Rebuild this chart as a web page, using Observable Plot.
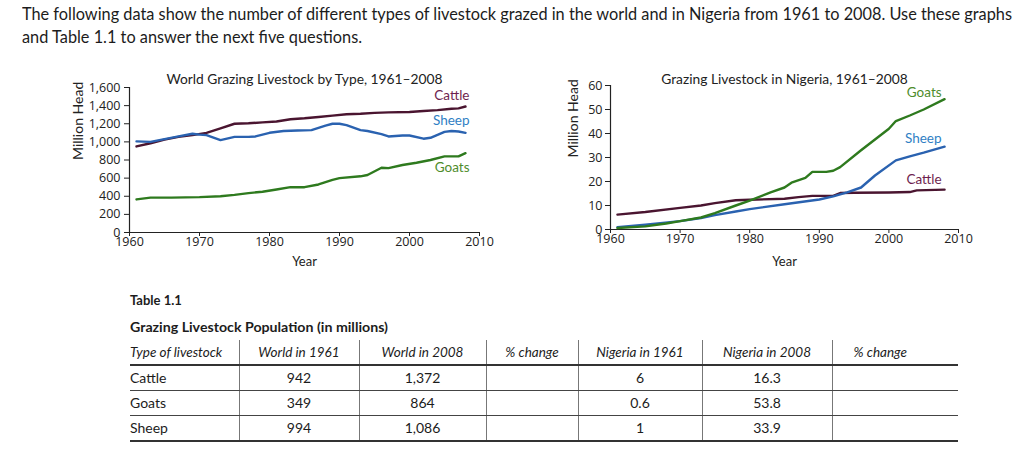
<!DOCTYPE html>
<html><head><meta charset="utf-8">
<script src="https://cdn.jsdelivr.net/npm/d3@7"></script>
<script src="https://cdn.jsdelivr.net/npm/@observablehq/plot@0.6"></script>
<style>
html,body{margin:0;padding:0;background:#fff;}
#page{position:relative;width:1024px;height:458px;overflow:hidden;font-family:Lato,"Open Sans",sans-serif;color:#1c1c1c;}
.abs{position:absolute;}
.fit{white-space:nowrap;transform-origin:0 50%;}
#intro1,#intro2{left:22px;font-size:16.5px;line-height:20px;}
#intro1{top:4px;}
#intro2{top:27px;}
#tnum{left:130px;top:291px;font-size:13px;font-weight:700;line-height:18px;}
#tname{left:130px;top:318px;font-size:14px;font-weight:700;line-height:18px;}
#tbl{left:130px;top:340px;border-collapse:collapse;table-layout:fixed;width:828px;font-size:14px;}
#tbl td,#tbl th{padding:0;text-align:center;height:24px;line-height:24px;white-space:nowrap;font-weight:400;}
#tbl th{font-style:italic;font-size:13.5px;border-bottom:2px solid #333;}
#tbl td{border-bottom:1.5px solid #444;}
#tbl tr:last-child td{border-bottom:2px solid #333;}
#tbl td:first-child,#tbl th:first-child{text-align:left;}
#tbl td+td,#tbl th+th{border-left:1px solid #777;}
#tbl th:last-child{padding-right:30px;}
svg{position:absolute;}
</style></head><body><div id="page"></div>
<script>
// ---------- Data ----------
const xTicks = [1960, 1970, 1980, 1990, 2000, 2010];
const worldYTicks = [0, 200, 400, 600, 800, 1000, 1200, 1400, 1600];
const nigeriaYTicks = [0, 10, 20, 30, 40, 50, 60];
const seriesNames = ["Cattle", "Sheep", "Goats"];

const worldCattleYears = [1961,1963,1965,1967,1969,1971,1973,1975,1977,1979,1981,1983,1985,1987,1989,1991,1993,1995,1997,2000,2002,2004,2006,2007,2008];
const worldCattle      = [950,985,1025,1055,1075,1100,1150,1200,1205,1215,1225,1250,1260,1275,1290,1305,1310,1320,1325,1330,1340,1350,1365,1370,1390];
const worldSheepYears  = [1961,1963,1965,1967,1969,1970,1971,1973,1975,1977,1978,1980,1982,1984,1986,1988,1989,1990,1991,1993,1994,1996,1997,1999,2000,2002,2003,2005,2006,2007,2008];
const worldSheep       = [1005,1000,1030,1060,1090,1080,1075,1020,1055,1055,1060,1100,1120,1125,1130,1180,1200,1200,1185,1130,1120,1085,1060,1070,1070,1035,1045,1110,1120,1115,1100];
const worldGoatsYears  = [1961,1963,1966,1970,1973,1975,1977,1979,1981,1983,1985,1987,1989,1990,1993,1994,1996,1997,1999,2001,2003,2005,2007,2008];
const worldGoats       = [365,385,385,390,400,415,435,450,475,500,500,530,580,600,620,635,715,710,745,770,800,840,840,875];

const nigeriaCattleYears = [1961,1965,1970,1973,1975,1978,1980,1985,1987,1989,1992,1993,1995,2000,2003,2004,2008];
const nigeriaCattle      = [6.2,7.3,9,10,11,12.2,12.4,12.8,13.5,14,14,15.2,15.3,15.4,15.6,16.3,16.6];
const nigeriaSheepYears  = [1961,1965,1970,1973,1975,1978,1980,1985,1990,1992,1994,1996,1998,2001,2003,2005,2008];
const nigeriaSheep       = [1,2,3.5,4.8,6,7.5,8.5,10.5,12.5,13.8,15.5,17.5,22.5,28.8,30.5,32,34.5];
const nigeriaGoatsYears  = [1961,1965,1968,1970,1973,1975,1978,1980,1983,1985,1986,1988,1989,1991,1992,1993,1996,2000,2001,2003,2005,2008];
const nigeriaGoats       = [0.6,1.3,2.5,3.5,5,6.8,10,12,15.5,17.5,19.5,21.5,24,24,24.5,26,33,42,45.2,47.5,50,54.3];

const tableTypes   = ["Cattle", "Goats", "Sheep"];
const world1961    = [942, 349, 994];
const world2008    = [1372, 864, 1086];
const nigeria1961  = [6, 0.6, 1];
const nigeria2008  = [16.3, 53.8, 33.9];
const tableHeaders = ["Type of livestock", "World in 1961", "World in 2008", "% change", "Nigeria in 1961", "Nigeria in 2008", "% change"];

// ---------- Styles ----------
const lineColors  = {Cattle: "#4a1530", Sheep: "#2a62b0", Goats: "#2e7a1e"};
const labelColors = {Cattle: "#6e1f4f", Sheep: "#2f80c4", Goats: "#4e8c2b"};
const tickFont = "'Open Sans', Lato, sans-serif";

const page = d3.select("#page");
page.append("div").attr("id","intro1").attr("class","abs fit")
  .text("The following data show the number of different types of livestock grazed in the world and in Nigeria from 1961 to 2008. Use these graphs");
page.append("div").attr("id","intro2").attr("class","abs fit")
  .text("and Table 1.1 to answer the next five questions.");

function makeChart(cfg) {
  const rows = cfg.series.flatMap(s => s.years.map((yr, i) => ({name: s.name, year: yr, value: s.values[i]})));
  const yFmt = d3.format(cfg.yFormat);
  const fw = cfg.width - cfg.m[0] - cfg.m[1];
  const fh = cfg.height - cfg.m[2] - cfg.m[3];
  const marks = [
    Plot.ruleY([0], {stroke: "#222", strokeWidth: 1.2}),
    Plot.ruleX([1960], {stroke: "#222", strokeWidth: 1.2}),
    // tick marks
    Plot.ruleX(xTicks, {x: d => d, insetTop: fh, insetBottom: -4, stroke: "#222", strokeWidth: 1}),
    Plot.ruleY(cfg.yTicks, {y: d => d, insetLeft: -5, insetRight: fw, stroke: "#222", strokeWidth: 1}),
    // tick labels
    Plot.text(xTicks, {x: d => d, text: d => String(d), frameAnchor: "bottom", lineAnchor: "top", dy: cfg.xLabDy, fontSize: 12.5, fontFamily: tickFont, fill: "#222"}),
    Plot.text(cfg.yTicks, {y: d => d, text: d => yFmt(d), frameAnchor: "left", textAnchor: "end", dx: cfg.yLabDx, fontSize: 12.5, fontFamily: tickFont, fill: "#222"}),
    Plot.line(rows, {x: "year", y: "value", z: "name", stroke: "name", strokeWidth: 2.4}),
    ...cfg.series.map(s => Plot.text([{name: s.name, year: s.years[s.years.length-1], value: s.values[s.values.length-1]}],
      {x: "year", y: "value", text: "name", textAnchor: "end", dx: cfg.labelDx, dy: cfg.labelDy[s.name], fill: labelColors[s.name], fontSize: 13.5})),
    Plot.text([cfg.title], {text: d => d, frameAnchor: "top", dy: cfg.titleDy, fontSize: 13.8, fill: "#222"}),
    Plot.text(["Year"], {text: d => d, frameAnchor: "bottom", dy: cfg.yearDy, fontSize: 13, fill: "#222"}),
    Plot.text(["Million Head"], {text: d => d, frameAnchor: "left", dx: cfg.mhDx, rotate: -90, fontSize: 14, fill: "#222"})
  ];
  const svg = Plot.plot({
    width: cfg.width, height: cfg.height,
    marginLeft: cfg.m[0], marginRight: cfg.m[1], marginTop: cfg.m[2], marginBottom: cfg.m[3],
    x: {domain: [1960, 2010], axis: null},
    y: {domain: cfg.yDomain, axis: null},
    color: {domain: seriesNames, range: seriesNames.map(n => lineColors[n])},
    style: {fontFamily: "Lato, 'Open Sans', sans-serif", fontSize: "12px", color: "#222", background: "transparent", overflow: "visible"},
    marks
  });
  svg.style.left = cfg.left + "px";
  svg.style.top = cfg.top + "px";
  document.getElementById("page").appendChild(svg);
}

makeChart({
  left: 0, top: 60, width: 520, height: 220, m: [129, 41, 27, 48],
  yDomain: [0, 1600], yTicks: worldYTicks, yFormat: ",d",
  title: "World Grazing Livestock by Type, 1961–2008", titleDy: -13, yearDy: 33, mhDx: -51,
  xLabDy: 5, yLabDx: -9,
  labelDx: 4, labelDy: {Cattle: -11, Sheep: -12, Goats: 14},
  series: [
    {name: "Cattle", years: worldCattleYears, values: worldCattle},
    {name: "Sheep", years: worldSheepYears, values: worldSheep},
    {name: "Goats", years: worldGoatsYears, values: worldGoats}
  ]
});
makeChart({
  left: 520, top: 60, width: 504, height: 220, m: [90, 66, 25, 51],
  yDomain: [0, 60], yTicks: nigeriaYTicks, yFormat: "d",
  title: "Grazing Livestock in Nigeria, 1961–2008", titleDy: -11, yearDy: 36, mhDx: -37,
  xLabDy: 5, yLabDx: -8,
  labelDx: -3, labelDy: {Cattle: -10, Sheep: -8, Goats: -7},
  series: [
    {name: "Cattle", years: nigeriaCattleYears, values: nigeriaCattle},
    {name: "Sheep", years: nigeriaSheepYears, values: nigeriaSheep},
    {name: "Goats", years: nigeriaGoatsYears, values: nigeriaGoats}
  ]
});

// ---------- Table ----------
page.append("div").attr("id","tnum").attr("class","abs").text("Table 1.1");
page.append("div").attr("id","tname").attr("class","abs fit").text("Grazing Livestock Population (in millions)");
const colW = [109, 120, 127, 92, 124, 130, 126];
const tbl = page.append("table").attr("id","tbl").attr("class","abs");
const cg = tbl.append("colgroup");
colW.forEach(w => cg.append("col").style("width", w + "px"));
tbl.append("tr").selectAll("th").data(tableHeaders).join("th").text(d => d);
const fmt = d3.format(",");
tableTypes.forEach((t, i) => {
  const tr = tbl.append("tr");
  [t, fmt(world1961[i]), fmt(world2008[i]), "", String(nigeria1961[i]), String(nigeria2008[i]), ""]
    .forEach(v => tr.append("td").text(v));
});

// ---------- fit text widths ----------
const i1 = document.getElementById("intro1");
const s1 = 990 / i1.getBoundingClientRect().width;
i1.style.transform = `scaleX(${s1})`;
document.getElementById("intro2").style.transform = `scaleX(${s1})`;
const tn = document.getElementById("tname");
tn.style.transform = `scaleX(${258 / tn.getBoundingClientRect().width})`;
</script></body></html>
